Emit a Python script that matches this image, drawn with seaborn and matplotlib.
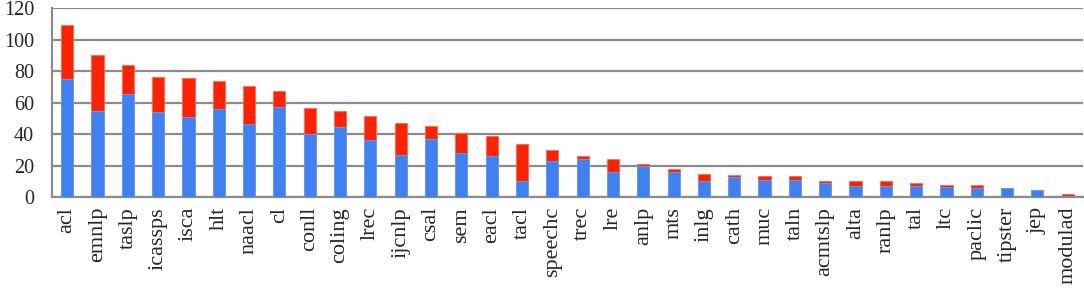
import numpy as np
import pandas as pd
import seaborn as sns
import matplotlib.pyplot as plt
from matplotlib.ticker import FixedLocator

venues = ["acl", "emnlp", "taslp", "icassps", "isca", "hlt", "naacl", "cl", "conll",
          "coling", "lrec", "ijcnlp", "csal", "sem", "eacl", "tacl", "speechc", "trec",
          "lre", "anlp", "mts", "inlg", "cath", "muc", "taln", "acmtslp", "alta",
          "ranlp", "tal", "ltc", "paclic", "tipster", "jep", "modulad"]
blue_part = [75, 54.5, 65.5, 54, 51, 56, 46.5, 57.5, 40, 44.5, 36, 27, 37, 28, 26, 10.5,
             23, 24, 16, 20, 15.7, 10, 13, 11, 11, 9, 7, 7, 7, 6.6, 5.8, 5.8, 4.5, 0.5]
total = [109, 90, 83.7, 76.5, 75.7, 73.5, 70.7, 67.7, 56.8, 54.5, 51.3, 47, 45, 40.7,
         38.9, 34, 29.8, 26.2, 24, 21, 17.8, 15, 14, 13.2, 13.2, 10, 10, 10, 8.8, 7.7,
         7.7, 5.8, 4.5, 2.2]

df = pd.DataFrame({"venue": venues, "blue": blue_part, "total": total})

sns.set_style("white")
plt.rcParams['font.family'] = ['Liberation Serif', 'DejaVu Serif']

fig, ax = plt.subplots(figsize=(10.84, 2.9), dpi=100)
fig.subplots_adjust(left=0.048, right=0.999, top=0.972, bottom=0.32)

sns.barplot(data=df, x="venue", y="total", color="#ff2200", width=0.4,
            saturation=1, edgecolor="#ff6a50", linewidth=0.6, ax=ax, zorder=3)
sns.barplot(data=df, x="venue", y="blue", color="#3f80f2", width=0.4,
            saturation=1, edgecolor="#6a9cf5", linewidth=0.6, ax=ax, zorder=4)

ax.set_ylim(0, 120)
ax.set_xlim(-0.5, len(venues) - 0.5)
ax.set_yticks(range(0, 121, 20))
ax.yaxis.grid(True, color="#8c8c8c", linewidth=1.6, zorder=0)
ax.set_axisbelow(True)
ax.set_xlabel("")
ax.set_ylabel("")

for s in ["top", "right"]:
    ax.spines[s].set_visible(False)
ax.spines["left"].set_color("#8c8c8c")
ax.spines["left"].set_linewidth(1.6)
ax.spines["bottom"].set_color("#8c8c8c")
ax.spines["bottom"].set_linewidth(1.6)

ax.tick_params(axis="x", which="major", length=0, labelsize=16, rotation=90, pad=7)
ax.tick_params(axis="y", which="major", length=0, labelsize=14.5, pad=13)
ax.xaxis.set_minor_locator(FixedLocator(np.arange(-0.5, len(venues), 1.0)))
ax.tick_params(axis="x", which="minor", length=5, width=1.2, color="#8c8c8c",
               direction="out")

fig.savefig("out.png", dpi=100)
